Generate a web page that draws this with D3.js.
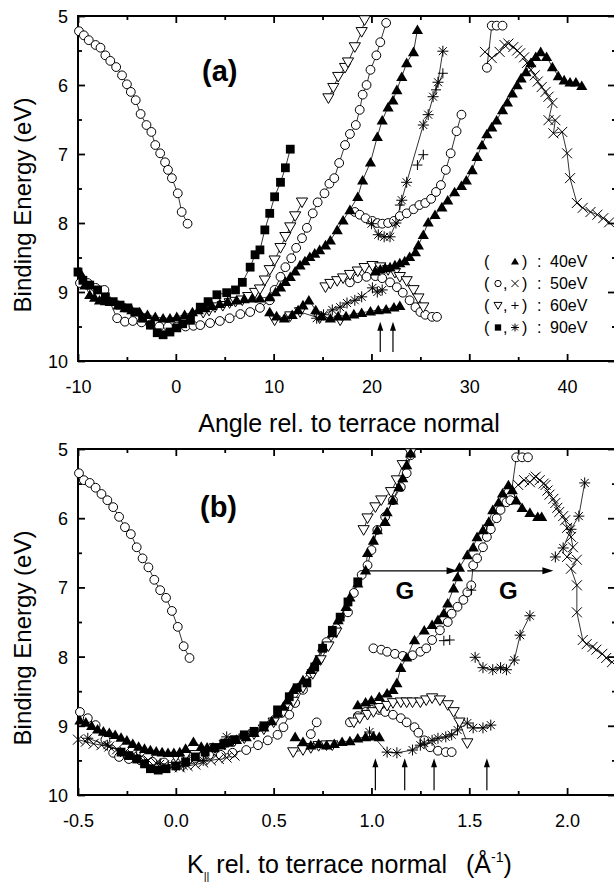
<!DOCTYPE html>
<html>
<head>
<meta charset="utf-8">
<script src="https://cdn.jsdelivr.net/npm/d3@7"></script>
<style>
  body { margin: 0; background: #fff; }
  svg { display: block; font-family: "Liberation Sans", Arial, Helvetica, sans-serif; }
</style>
</head>
<body>
<svg id="chart" width="614" height="884"></svg>
<script>
// ---------- panel (a): binding energy vs emission angle (deg) ----------
const aXTicks = [-10, 0, 10, 20, 30, 40];
const aXMinor = [-5, 5, 15, 25, 35, 45];
const yTicks = [5, 6, 7, 8, 9, 10];
const yMinor = [5.5, 6.5, 7.5, 8.5, 9.5];

// 40 eV, filled up-triangles
const aTri40 = [
  [[-9.8,8.71],[-9.3,8.9],[-8.8,9.04],[-8.3,9.08],[-7.8,9.12],[-7.2,9.13],[-6.7,9.14],[-5.9,9.19],[-5.2,9.23],[-4.5,9.26],[-3.7,9.29],[-2.9,9.33],[-2.1,9.36],[-1.3,9.38],[-0.6,9.38],[0.1,9.36],[0.9,9.33],[1.7,9.29],[2.3,9.26],[3.0,9.23],[3.7,9.2],[4.5,9.17],[5.3,9.14],[6.2,9.12],[7.0,9.1],[7.8,9.09],[8.6,9.09],[9.6,9.07],[10.2,9.0],[10.7,8.93],[11.2,8.85],[11.7,8.78],[12.2,8.7],[12.7,8.61],[13.2,8.55],[13.7,8.49],[14.2,8.44],[14.7,8.39],[15.3,8.32],[15.8,8.25],[16.5,8.1],[17.1,7.96],[17.8,7.81],[18.6,7.62],[19.1,7.38],[19.9,7.12],[20.6,6.75],[21.1,6.51],[21.7,6.32],[22.2,6.22],[22.6,6.07],[23.1,5.88],[23.6,5.68],[24.3,5.52],[24.7,5.2]],
  [[9.6,9.29],[10.3,9.35],[11.1,9.38],[11.9,9.33],[12.5,9.26],[13.0,9.19],[13.6,9.12],[14.3,9.26],[14.9,9.35],[15.8,9.38],[16.6,9.35],[17.4,9.35],[18.2,9.32],[19.0,9.3],[19.9,9.28],[20.7,9.26],[21.5,9.25],[22.3,9.22],[22.9,9.2]],
  [[20.4,8.7],[20.9,8.67],[21.4,8.65],[21.9,8.64],[22.4,8.61],[22.9,8.58],[23.4,8.55],[23.9,8.49],[24.5,8.42],[24.8,8.32],[25.3,8.17],[25.8,7.99],[26.5,7.88],[27.2,7.77],[27.8,7.67],[28.5,7.55],[29.2,7.46],[29.7,7.38],[30.3,7.23],[30.8,7.04],[31.3,6.87],[31.8,6.71],[32.3,6.61],[32.8,6.51],[33.4,6.36],[33.9,6.25],[34.4,6.12],[34.9,6.0],[35.3,5.9],[35.8,5.81],[36.3,5.68],[36.8,5.59],[37.3,5.52],[37.9,5.59],[38.5,5.74],[39.1,5.87],[39.7,5.93],[40.3,5.96],[40.9,5.96],[41.5,6.01]]
];
// 50 eV, open circles
const aCirc50 = [
  [[-9.9,5.22],[-9.4,5.28],[-8.9,5.35],[-8.2,5.42],[-7.7,5.46],[-7.2,5.57],[-6.7,5.65],[-6.1,5.74],[-5.5,5.86],[-5.0,5.99],[-4.6,6.1],[-4.1,6.22],[-3.6,6.42],[-3.0,6.58],[-2.5,6.68],[-2.1,6.87],[-1.6,6.99],[-1.1,7.12],[-0.8,7.23],[-0.4,7.35],[0.2,7.57],[0.6,7.84],[1.2,8.01]],
  [[-9.8,8.87],[-9.0,8.87],[-8.2,8.94],[-7.3,8.97],[-6.0,9.38],[-5.2,9.43],[-4.4,9.42],[-3.5,9.44],[-2.6,9.47],[-1.7,9.5],[-0.8,9.5],[0.1,9.5],[1.0,9.5],[1.8,9.49],[2.5,9.48],[3.5,9.45],[4.5,9.42],[5.5,9.38],[6.6,9.32],[7.6,9.29],[8.6,9.23],[9.6,9.12],[10.1,8.97],[10.7,8.78],[11.2,8.64],[11.8,8.51],[12.3,8.36],[12.9,8.22],[13.4,8.07],[14.0,7.86],[14.5,7.7],[15.2,7.57],[15.7,7.43],[16.2,7.35],[16.7,7.13],[17.3,6.87],[17.8,6.71],[18.4,6.58],[18.8,6.36],[19.1,6.14],[19.5,6.0],[19.9,5.78],[20.5,5.57],[20.9,5.38],[21.5,5.1]],
  [[18.3,7.84],[18.8,7.88],[19.4,7.93],[20.1,7.97],[20.6,8.0],[21.1,8.01],[21.7,8.0],[22.3,7.97],[22.9,7.9],[23.6,7.86],[24.3,7.8],[24.9,7.74],[25.5,7.71],[26.1,7.65],[26.6,7.55],[27.1,7.45],[27.6,7.23],[28.1,6.99],[28.7,6.67],[29.2,6.43]],
  [[17.8,8.86],[18.6,8.8],[19.5,8.78],[20.4,8.77],[21.1,8.8],[21.9,8.86],[22.6,8.93],[23.2,9.01],[23.9,9.12],[24.5,9.22],[25.0,9.29],[25.5,9.33],[26.2,9.36],[26.7,9.36]],
  [[31.8,5.75],[32.3,5.14],[32.8,5.14],[33.4,5.14]]
];
// 50 eV, crosses
const aCross50 = [
  [[31.6,5.52],[32.3,5.61],[33.1,5.52],[33.6,5.42],[34.0,5.4],[34.5,5.45],[34.9,5.5],[35.2,5.54],[35.6,5.6],[35.9,5.68],[36.3,5.78],[36.7,5.86],[37.0,5.95],[37.4,6.03],[37.8,6.1],[38.1,6.17],[38.5,6.26],[38.1,6.51],[38.8,6.51],[38.6,6.7],[39.5,6.68],[40.0,6.99],[40.3,7.35],[41.0,7.71],[41.6,7.78],[42.4,7.84],[43.1,7.88],[43.7,7.93],[44.3,7.99]]
];
// 60 eV, open down-triangles
const aTriDown60 = [
  [[2.8,9.3],[3.4,9.27],[4.0,9.22],[4.8,9.2],[5.5,9.16],[6.1,9.14],[6.8,9.12],[7.4,9.07],[8.1,9.01],[8.6,8.96],[9.1,8.83],[9.6,8.68],[10.1,8.54],[10.7,8.36],[11.2,8.2],[11.7,8.06],[12.2,7.9],[12.9,7.7]],
  [[15.6,6.19],[16.1,6.04],[16.6,5.88],[17.3,5.75],[17.6,5.67],[18.3,5.45],[19.0,5.23],[19.3,5.06]],
  [[15.3,8.93],[15.8,8.88],[16.5,8.84],[17.1,8.8],[17.8,8.75],[18.6,8.7],[19.3,8.65],[20.1,8.62],[20.9,8.64],[21.7,8.68],[22.4,8.72],[22.9,8.78],[23.6,8.84],[24.3,8.97],[24.8,9.09],[25.3,9.22]],
  [[10.1,9.41],[11.7,9.35],[12.7,9.29],[14.7,9.38],[16.8,9.41]]
];
// 60 eV, plus signs
const aPlus60 = [
  [[22.9,7.74]],
  [[24.7,7.16],[25.3,7.01]],
  [[26.6,6.07],[27.3,5.83]]
];
// 90 eV, filled squares
const aSq90 = [
  [[-10.0,8.71],[-9.5,8.83],[-8.8,8.9],[-8.0,8.97],[-7.2,9.07],[-6.4,9.14],[-5.7,9.19],[-4.9,9.23],[-4.2,9.29],[-3.4,9.38],[-2.6,9.48],[-1.9,9.59],[-1.3,9.62],[-0.6,9.58],[0.1,9.52],[0.7,9.46],[1.5,9.41],[2.5,9.22],[3.3,9.14],[4.2,9.04],[5.2,9.01],[6.1,8.97],[6.8,8.86],[7.6,8.64],[8.1,8.46],[8.6,8.39],[9.1,8.1],[9.6,7.86],[10.1,7.62],[10.7,7.41],[11.2,7.2],[11.7,6.93]]
];
// 90 eV, asterisks
const aAst90 = [
  [[20.0,8.01],[20.7,8.17],[21.3,8.2],[21.9,8.2],[22.5,8.0],[23.1,7.67],[23.6,7.41],[25.3,6.58],[25.8,6.43],[26.3,6.17],[26.8,5.96],[27.3,5.51]],
  [[14.4,9.38],[15.1,9.33],[16.0,9.26],[16.8,9.22],[17.5,9.16],[18.3,9.12],[19.0,9.07],[20.1,8.94],[20.6,9.0],[21.1,8.97]]
];
const aArrowsX = [20.9, 22.2];
const aArrowY = [9.87, 9.43];

// ---------- panel (b): binding energy vs parallel momentum (1/A) ----------
const bXTicks = [-0.5, 0.0, 0.5, 1.0, 1.5, 2.0];
const bXMinor = [-0.25, 0.25, 0.75, 1.25, 1.75, 2.25];

const bTri40 = [
  [[-0.49,8.92],[-0.46,8.95],[-0.43,9.0],[-0.4,9.05],[-0.37,9.08],[-0.34,9.1],[-0.31,9.13],[-0.28,9.17],[-0.25,9.21],[-0.22,9.26],[-0.19,9.3],[-0.16,9.33],[-0.13,9.35],[-0.1,9.37],[-0.07,9.38],[-0.04,9.39],[-0.01,9.39],[0.02,9.38],[0.05,9.33],[0.09,9.23],[0.13,9.3],[0.16,9.31],[0.19,9.31],[0.23,9.28],[0.27,9.24],[0.31,9.2],[0.36,9.16],[0.4,9.1],[0.45,9.02],[0.49,8.93],[0.52,8.82],[0.55,8.72],[0.57,8.63],[0.6,8.48],[0.65,8.34],[0.69,8.19],[0.72,8.05],[0.75,7.86],[0.8,7.66],[0.83,7.47],[0.87,7.28],[0.89,7.14],[0.93,6.94],[0.97,6.75],[0.98,6.5],[1.01,6.32],[1.03,6.17],[1.07,6.05],[1.08,5.91],[1.11,5.74],[1.14,5.55],[1.16,5.42],[1.18,5.23],[1.2,5.06]],
  [[0.61,9.16],[0.65,9.23],[0.69,9.28],[0.73,9.26],[0.77,9.28],[0.81,9.26],[0.85,9.23],[0.89,9.22],[0.93,9.18],[0.97,9.16],[1.01,9.15],[1.04,9.16]],
  [[0.93,8.7],[0.97,8.66],[1.0,8.63],[1.04,8.58],[1.08,8.53],[1.11,8.48],[1.13,8.38],[1.15,8.16],[1.18,8.01],[1.22,7.76],[1.27,7.62],[1.31,7.54],[1.34,7.47],[1.37,7.37],[1.39,7.23],[1.42,7.01],[1.44,6.85],[1.45,6.71],[1.49,6.53],[1.52,6.42],[1.54,6.27],[1.57,6.17],[1.6,6.05],[1.62,5.88],[1.65,5.77],[1.67,5.64],[1.7,5.52],[1.72,5.59],[1.74,5.74],[1.77,5.85],[1.81,5.92],[1.85,5.98],[1.87,5.98]]
];
const bCirc50 = [
  [[-0.495,5.35],[-0.47,5.45],[-0.44,5.49],[-0.41,5.56],[-0.38,5.65],[-0.35,5.74],[-0.32,5.84],[-0.29,5.98],[-0.26,6.13],[-0.23,6.23],[-0.2,6.42],[-0.17,6.58],[-0.14,6.71],[-0.11,6.89],[-0.08,7.04],[-0.05,7.15],[-0.02,7.34],[0.01,7.57],[0.04,7.85],[0.07,8.02]],
  [[-0.49,8.8],[-0.45,8.89],[-0.41,8.99],[-0.36,9.2],[-0.32,9.39],[-0.29,9.45],[-0.24,9.48],[-0.18,9.5],[-0.12,9.52],[-0.06,9.53],[0.0,9.53],[0.06,9.5],[0.12,9.45],[0.17,9.42],[0.23,9.42],[0.29,9.39],[0.36,9.35],[0.42,9.28],[0.47,9.21],[0.52,9.13],[0.55,9.02],[0.58,8.84],[0.61,8.67],[0.65,8.48],[0.69,8.24],[0.73,8.05],[0.77,7.79],[0.82,7.59],[0.88,7.36],[0.91,7.08],[0.95,6.82],[0.98,6.68],[1.0,6.46],[1.03,6.17],[1.07,5.98],[1.11,5.74],[1.15,5.55],[1.18,5.35],[1.2,5.09]],
  [[1.01,7.88],[1.05,7.9],[1.08,7.93],[1.12,7.96],[1.16,7.99],[1.21,7.98],[1.25,7.93],[1.28,7.88],[1.31,7.76],[1.35,7.62],[1.39,7.5],[1.41,7.38],[1.44,7.28],[1.47,7.18],[1.49,7.07],[1.51,6.97],[1.52,6.68],[1.54,6.58],[1.57,6.42],[1.59,6.27],[1.61,6.16],[1.64,6.0],[1.66,5.88],[1.69,5.77],[1.71,5.69]],
  [[0.89,8.95],[0.93,8.86],[0.97,8.8],[1.0,8.77],[1.04,8.77],[1.07,8.8],[1.11,8.84],[1.15,8.89],[1.18,8.95],[1.22,9.02],[1.24,9.1],[1.27,9.21],[1.3,9.31],[1.34,9.36],[1.38,9.38],[1.41,9.38]],
  [[1.71,5.74],[1.74,5.12],[1.77,5.12],[1.8,5.12]],
  [[0.69,9.12],[0.72,8.95]]
];
const bCross50 = [
  [[1.75,5.52],[1.78,5.45],[1.81,5.48],[1.83,5.42],[1.84,5.4],[1.86,5.45],[1.88,5.5],[1.89,5.52],[1.9,5.6],[1.91,5.66],[1.93,5.72],[1.94,5.78],[1.95,5.85],[1.96,5.91],[1.98,5.97],[1.99,6.03],[2.0,6.14],[2.02,6.27],[2.03,6.42],[2.0,6.56],[2.05,6.6],[2.02,6.73],[2.05,6.97],[2.05,7.36],[2.08,7.76],[2.1,7.82],[2.13,7.86],[2.15,7.9],[2.18,7.96],[2.2,8.02],[2.23,8.08]],
  [[-0.5,9.2],[-0.46,9.23],[-0.42,9.26],[-0.38,9.28],[-0.34,9.3],[-0.3,9.34],[-0.26,9.38],[-0.22,9.42],[-0.18,9.46],[-0.14,9.5],[-0.1,9.54],[-0.06,9.57],[-0.02,9.6],[0.02,9.6],[0.06,9.58],[0.1,9.56],[0.14,9.53],[0.18,9.5],[0.22,9.48],[0.26,9.46],[0.3,9.43]]
];
const bTriDown60 = [
  [[0.0,9.45],[0.05,9.43],[0.1,9.42],[0.15,9.38],[0.2,9.32],[0.25,9.27],[0.3,9.22],[0.35,9.18],[0.4,9.12],[0.45,9.05],[0.5,8.95],[0.55,8.8],[0.6,8.65],[0.65,8.45],[0.7,8.25],[0.74,8.05],[0.78,7.85],[0.82,7.65]],
  [[0.96,6.17],[0.98,6.0],[1.02,5.84],[1.05,5.74],[1.1,5.62],[1.13,5.45],[1.16,5.23],[1.2,5.06]],
  [[0.91,8.95],[0.94,8.89],[0.98,8.84],[1.01,8.8],[1.04,8.74],[1.08,8.71],[1.11,8.67],[1.15,8.66],[1.18,8.66],[1.21,8.66],[1.25,8.66],[1.28,8.63],[1.31,8.6],[1.35,8.63],[1.39,8.7],[1.42,8.8],[1.45,8.95],[1.49,9.25]],
  [[0.6,9.38],[0.65,9.35],[0.69,9.32],[0.73,9.29],[0.77,9.28],[0.8,9.28]]
];
const bPlus60 = [
  [[1.37,7.77],[1.4,7.76]],
  [[1.51,7.04]],
  [[1.59,6.1]]
];
const bSq90 = [
  [[-0.28,9.38],[-0.24,9.43],[-0.2,9.48],[-0.16,9.55],[-0.13,9.62],[-0.09,9.64],[-0.05,9.62],[0.0,9.58],[0.05,9.52],[0.1,9.45],[0.15,9.38],[0.2,9.32],[0.25,9.25],[0.3,9.2],[0.35,9.13],[0.4,9.08],[0.45,9.0],[0.52,8.77],[0.58,8.58],[0.62,8.45],[0.67,8.38],[0.71,8.15],[0.75,7.88],[0.8,7.62],[0.84,7.43],[0.88,7.21],[0.93,6.92]]
];
const bAst90 = [
  [[1.53,8.01],[1.57,8.16],[1.62,8.19],[1.66,8.16],[1.69,8.19],[1.73,8.05],[1.76,7.69],[1.81,7.41]],
  [[1.94,6.56],[1.98,6.43],[2.02,6.16],[2.06,5.97],[2.09,5.49]],
  [[0.99,9.09],[1.08,9.38],[1.13,9.39],[1.21,9.35],[1.25,9.28],[1.27,9.25],[1.31,9.21],[1.34,9.18],[1.38,9.16],[1.41,9.13],[1.44,9.06],[1.49,8.96],[1.52,9.03],[1.57,9.03],[1.61,8.99]],
  [[-0.45,9.18],[-0.35,9.28],[-0.2,9.45],[-0.08,9.55],[0.04,9.58],[0.14,9.5],[0.26,9.16]]
];
const bArrowsX = [1.02, 1.17, 1.32, 1.59];
const bArrowY = [9.93, 9.47];
const bGArrows = [[0.98, 1.44], [1.49, 1.93]];
const bGY = 6.76;
const bGLabels = [[1.17, 7.04], [1.7, 7.04]];

const legendRows = [
  { syms: [null, "tri"], label: "40eV" },
  { syms: ["circ", "cross"], label: "50eV" },
  { syms: ["tridown", "plus"], label: "60eV" },
  { syms: ["sq", "ast"], label: "90eV" }
];

// ---------- drawing ----------
const svg = d3.select("#chart");

function symPath(type, s) {
  const f = v => (v * s).toFixed(2);
  switch (type) {
    case "tri": return `M0,${f(-5.3)}L${f(5.6)},${f(4.3)}L${f(-5.6)},${f(4.3)}Z`;
    case "tridown": return `M0,${f(5.3)}L${f(5.6)},${f(-4.3)}L${f(-5.6)},${f(-4.3)}Z`;
    case "circ": return d3.symbol(d3.symbolCircle, Math.PI * Math.pow(4.4 * s, 2))();
    case "sq": return `M${f(-4.4)},${f(-4.4)}h${f(8.8)}v${f(8.8)}h${f(-8.8)}Z`;
    case "cross": return `M${f(-5)},${f(-5)}L${f(5)},${f(5)}M${f(-5)},${f(5)}L${f(5)},${f(-5)}`;
    case "plus": return `M${f(-5)},0L${f(5)},0M0,${f(-5)}L0,${f(5)}`;
    case "ast": return `M${f(-5.5)},0L${f(5.5)},0M0,${f(-5.5)}L0,${f(5.5)}M${f(-4)},${f(-4)}L${f(4)},${f(4)}M${f(-4)},${f(4)}L${f(4)},${f(-4)}`;
  }
}
function symStyle(sel, type) {
  const filled = type === "tri" || type === "sq";
  const open = type === "circ" || type === "tridown";
  sel.attr("fill", filled ? "#000" : (open ? "#fff" : "none"))
     .attr("stroke", filled ? "none" : "#000")
     .attr("stroke-width", 1);
}

function drawPanel(cfg) {
  const x = d3.scaleLinear().domain(cfg.xDomain).range([78, 616]);
  const y = d3.scaleLinear().domain([5, 10]).range([cfg.top, cfg.bottom]);
  const g = svg.append("g");

  // ticks (pointing inward on all four sides)
  const tickAxis = (axis, tr, vals, size, fmt, pad) => {
    const a = g.append("g").attr("transform", tr)
      .call(axis.tickValues(vals).tickSize(size).tickPadding(pad || 3).tickFormat(fmt || ""));
    a.select(".domain").remove();
    a.attr("font-size", 18).attr("font-family", null);
    a.selectAll("line").attr("stroke-width", 1.8);
    return a;
  };
  tickAxis(d3.axisBottom(x), `translate(0,${cfg.bottom})`, cfg.xMajor, -7, cfg.xFmt, 19);
  tickAxis(d3.axisBottom(x), `translate(0,${cfg.bottom})`, cfg.xMinor, -4);
  tickAxis(d3.axisTop(x), `translate(0,${cfg.top})`, cfg.xMajor, -7);
  tickAxis(d3.axisTop(x), `translate(0,${cfg.top})`, cfg.xMinor, -4);
  tickAxis(d3.axisLeft(y), "translate(78,0)", yTicks, -7, d => String(d), 10)
    .selectAll("text").attr("dy", "0.36em");
  tickAxis(d3.axisLeft(y), "translate(78,0)", yMinor, -4);
  tickAxis(d3.axisRight(y), "translate(616,0)", yTicks, -8);
  tickAxis(d3.axisRight(y), "translate(616,0)", yMinor, -4);

  g.append("rect").attr("x", 78).attr("y", cfg.top)
    .attr("width", 538).attr("height", cfg.bottom - cfg.top)
    .attr("fill", "none").attr("stroke", "#000").attr("stroke-width", 2);

  // connecting lines
  const line = d3.line().x(d => x(d[0])).y(d => y(d[1]));
  const lines = g.append("g").attr("fill", "none").attr("stroke", "#000").attr("stroke-width", 0.8);
  cfg.series.forEach(s => s.data.forEach(seg => {
    if (seg.length > 1) lines.append("path").attr("d", line(seg));
  }));

  // markers: open ones first, filled ones on top
  const order = ["circ", "tridown", "cross", "plus", "ast", "sq", "tri"];
  order.forEach(type => {
    cfg.series.filter(s => s.sym === type).forEach(s => {
      const pts = s.data.flat();
      g.append("g").selectAll("path").data(pts).join("path")
        .attr("d", symPath(type, 1))
        .attr("transform", d => `translate(${x(d[0])},${y(d[1])})`)
        .call(symStyle, type);
    });
  });

  // vertical arrows
  cfg.arrowsX.forEach(v => {
    const px = x(v), yb = y(cfg.arrowY[0]), yt = y(cfg.arrowY[1]);
    g.append("line").attr("x1", px).attr("x2", px).attr("y1", yb).attr("y2", yt + 6)
      .attr("stroke", "#000").attr("stroke-width", 1.2);
    g.append("path").attr("d", `M${px},${yt}L${px + 3},${yt + 9}L${px - 3},${yt + 9}Z`).attr("fill", "#000");
  });

  return { x, y, g };
}

const pa = drawPanel({
  top: 16, bottom: 361, xDomain: [-10, 45], xMajor: aXTicks, xMinor: aXMinor,
  xFmt: d => String(d),
  series: [
    { data: aCirc50, sym: "circ" }, { data: aCross50, sym: "cross" },
    { data: aTriDown60, sym: "tridown" }, { data: aPlus60, sym: "plus" },
    { data: aSq90, sym: "sq" }, { data: aAst90, sym: "ast" },
    { data: aTri40, sym: "tri" }
  ],
  arrowsX: aArrowsX, arrowY: aArrowY
});

const pb = drawPanel({
  top: 449, bottom: 795, xDomain: [-0.5, 2.25], xMajor: bXTicks, xMinor: bXMinor,
  xFmt: d => d.toFixed(1),
  series: [
    { data: bCirc50, sym: "circ" }, { data: bCross50, sym: "cross" },
    { data: bTriDown60, sym: "tridown" }, { data: bPlus60, sym: "plus" },
    { data: bSq90, sym: "sq" }, { data: bAst90, sym: "ast" },
    { data: bTri40, sym: "tri" }
  ],
  arrowsX: bArrowsX, arrowY: bArrowY
});

// G arrows in panel (b)
bGArrows.forEach(([a, b]) => {
  const x1 = pb.x(a), x2 = pb.x(b), yy = pb.y(bGY);
  pb.g.append("line").attr("x1", x1).attr("x2", x2 - 8).attr("y1", yy).attr("y2", yy)
    .attr("stroke", "#000").attr("stroke-width", 1.3);
  pb.g.append("path").attr("d", `M${x2},${yy}L${x2 - 11},${yy - 3.5}L${x2 - 11},${yy + 3.5}Z`).attr("fill", "#000");
});
bGLabels.forEach(([k, e]) => {
  pb.g.append("text").attr("x", pb.x(k)).attr("y", pb.y(e) + 9)
    .attr("text-anchor", "middle").attr("font-size", 24).attr("font-weight", "bold").text("G");
});

// panel labels
svg.append("text").attr("x", 202).attr("y", 81).attr("font-size", 29).attr("font-weight", "bold").text("(a)");
svg.append("text").attr("x", 200).attr("y", 517).attr("font-size", 29).attr("font-weight", "bold").text("(b)");

// axis titles
[205, 638].forEach(cy => {
  svg.append("text").attr("transform", `translate(31,${cy}) rotate(-90)`)
    .attr("text-anchor", "middle").attr("font-size", 24).text("Binding Energy (eV)");
});
svg.append("text").attr("x", 349).attr("y", 432).attr("text-anchor", "middle")
  .attr("font-size", 25).text("Angle rel. to terrace normal");

const bt = svg.append("text").attr("x", 187).attr("y", 873).attr("font-size", 25);
bt.append("tspan").text("K");
bt.append("tspan").attr("font-size", 11).attr("dy", 7).text("||");
bt.append("tspan").attr("dy", -7).text(" rel. to terrace normal");
bt.append("tspan").attr("x", 466).text("(Å");
bt.append("tspan").attr("font-size", 14).attr("dy", -11).text("-1");
bt.append("tspan").attr("dy", 11).text(")");

// legend (panel a)
const lg = svg.append("g").attr("font-size", 16);
legendRows.forEach((r, i) => {
  const by = 267 + i * 22;
  lg.append("text").attr("x", 484).attr("y", by).text("(");
  lg.append("text").attr("x", 522).attr("y", by).text(")");
  lg.append("text").attr("x", 537).attr("y", by).text(":");
  lg.append("text").attr("x", 550).attr("y", by).text(r.label);
  if (r.syms[0]) lg.append("text").attr("x", 503).attr("y", by).text(",");
  r.syms.forEach((s, j) => {
    if (!s) return;
    lg.append("path").attr("d", symPath(s, 0.72))
      .attr("transform", `translate(${j ? 515 : 498},${by - 5.5})`)
      .call(symStyle, s);
  });
});
</script>
</body>
</html>
